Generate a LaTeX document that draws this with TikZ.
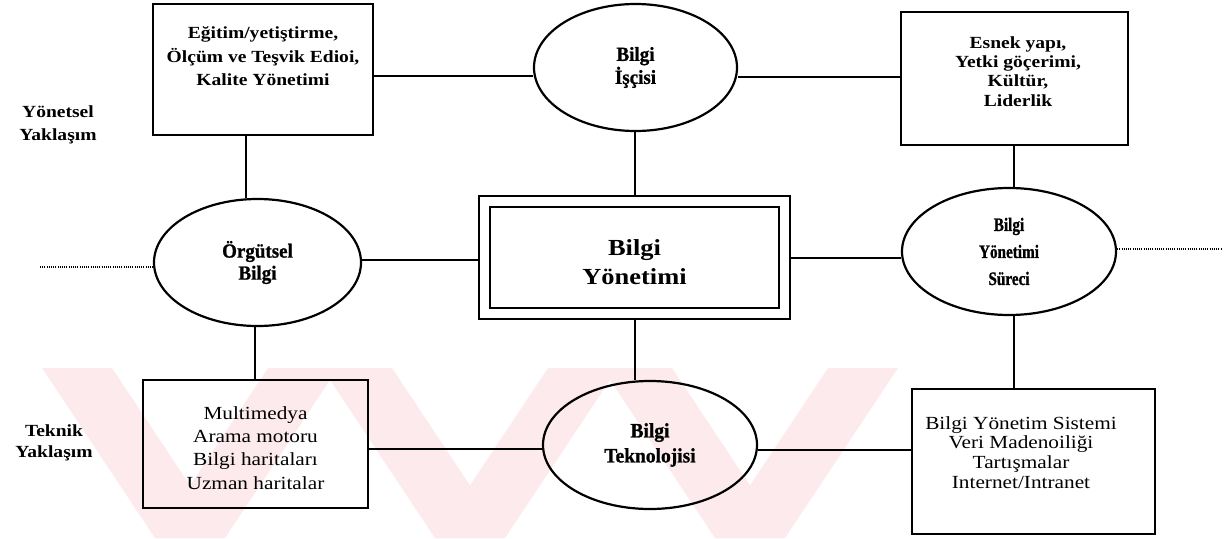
\documentclass[tikz,border=0pt]{standalone}
\usepackage{fontspec}
\setmainfont{Liberation Serif}[FakeStretch=1.15]
\newfontfamily\ovalfont{Liberation Serif}[FakeStretch=0.95, FakeBold=1]
\newfontfamily\narrowoval{Liberation Serif}[FakeStretch=0.8, FakeBold=1]
\usetikzlibrary{shapes.geometric,calc}
\definecolor{wmpink}{RGB}{253,234,237}
\tikzset{
  boxnode/.style={draw, rectangle, line width=1.8pt, inner sep=0pt},
  ovalnode/.style={draw, ellipse, line width=2.2pt, inner sep=0pt, align=center},
  boldtxt/.style={align=center, inner sep=0pt, font=\fontsize{17}{#1}\selectfont\bfseries},
  plaintxt/.style={align=center, inner sep=0pt, font=\fontsize{18.5}{#1}\selectfont},
  link/.style={line width=1.5pt},
  dotlink/.style={line width=1.5pt, dash pattern=on 1pt off 1.2pt},
}
\begin{document}
\begin{tikzpicture}[x=1pt,y=-1pt]
\useasboundingbox (0,0) rectangle (1225,538);

% faint chevron bands in the lower part
\foreach \v in {190,470,750}{
  \fill[wmpink] (\v-148,368) -- (\v-78,368) -- (\v+35,538) -- (\v-35,538) -- cycle;
  \fill[wmpink] (\v-35,538) -- (\v+35,538) -- (\v+148,368) -- (\v+78,368) -- cycle;
}

% side labels
\node[boldtxt=23] (ly) at (58,124.5) {Yönetsel\\Yaklaşım};
\node[boldtxt=21] (lt) at (54,442.5) {Teknik\\Yaklaşım};

% upper row
\node[boxnode, minimum width=220pt, minimum height=131pt] (tl) at (263,69.5) {};
\node[boldtxt=23.5] (tlt) at (263,56.5) {Eğitim/yetiştirme,\\Ölçüm ve Teşvik Edioi,\\Kalite Yönetimi};

\node[ovalnode, minimum width=203pt, minimum height=127pt,
      font=\ovalfont\fontsize{20}{23}\selectfont\bfseries] (wk) at (635.5,67.5) {Bilgi\\İşçisi};

\node[boxnode, minimum width=227pt, minimum height=133pt] (tr) at (1014.5,78.5) {};
\node[boldtxt=19.2] (trt) at (1018,71.5) {Esnek yapı,\\Yetki göçerimi,\\Kültür,\\Liderlik};

% middle row
\node[ovalnode, minimum width=207pt, minimum height=127pt,
      font=\ovalfont\fontsize{20}{22}\selectfont\bfseries] (ob) at (257.5,262.5) {Örgütsel\\Bilgi};

\node[draw, rectangle, line width=2pt, double, double distance=9pt, inner sep=0pt,
      outer sep=6.5pt, minimum width=300pt, minimum height=112.5pt] (bym) at (634.5,257.5) {};
\node[align=center, inner sep=0pt, font=\fontsize{23}{29}\selectfont\bfseries] (bymt) at (634.5,262.5) {Bilgi\\Yönetimi};

\node[ovalnode, minimum width=214pt, minimum height=127pt,
      font=\narrowoval\fontsize{19}{27}\selectfont\bfseries] (bys) at (1009,251.5) {Bilgi\\Yönetimi\\Süreci};

% lower row
\node[boxnode, minimum width=225pt, minimum height=128pt] (bl) at (255.5,444) {};
\node[plaintxt=23.3] (blt) at (255.5,448) {Multimedya\\Arama motoru\\Bilgi haritaları\\Uzman haritalar};

\node[ovalnode, minimum width=214pt, minimum height=128pt,
      font=\ovalfont\fontsize{20.5}{25}\selectfont\bfseries] (bt) at (650,445) {Bilgi\\Teknolojisi};

\node[boxnode, minimum width=243pt, minimum height=145pt] (br) at (1033.5,461.5) {};
\node[plaintxt=19.7] (brt) at (1021,452.5) {Bilgi Yönetim Sistemi\\Veri Madenoiliği\\Tartışmalar\\Internet/Intranet};

% guide coordinates for the connector lines
\coordinate (h1) at (0,76);
\coordinate (h2) at (0,77);
\coordinate (h3) at (0,260);
\coordinate (h4) at (0,258);
\coordinate (h5) at (0,449);
\coordinate (h6) at (0,450);
\coordinate (v1) at (246,0);
\coordinate (v2) at (635,0);
\coordinate (v3) at (1014,0);
\coordinate (v4) at (255,0);

% connectors
\draw[link] (tl.east |- h1) -- (wk.west |- h1);
\draw[link] (wk.east |- h2) -- (tr.west |- h2);
\draw[link] (tl.south -| v1) -- (ob.north -| v1);
\draw[link] (wk.south -| v2) -- (bym.north -| v2);
\draw[link] (tr.south -| v3) -- (bys.north -| v3);
\draw[link] (ob.east |- h3) -- (bym.west |- h3);
\draw[link] (bym.east |- h4) -- (bys.west |- h4);
\draw[link] (ob.south -| v4) -- (bl.north -| v4);
\draw[link] (bym.south -| v2) -- (bt.north -| v2);
\draw[link] (bys.south -| v3) -- (br.north -| v3);
\draw[link] (bl.east |- h5) -- (bt.west |- h5);
\draw[link] (bt.east |- h6) -- (br.west |- h6);

% dotted continuations at both sides
\coordinate (dl) at (40,267);
\coordinate (dr) at (1222,249);
\draw[dotlink] (dl) -- (dl -| ob.west);
\draw[dotlink] (bys.east |- dr) -- (dr);
\end{tikzpicture}
\end{document}
